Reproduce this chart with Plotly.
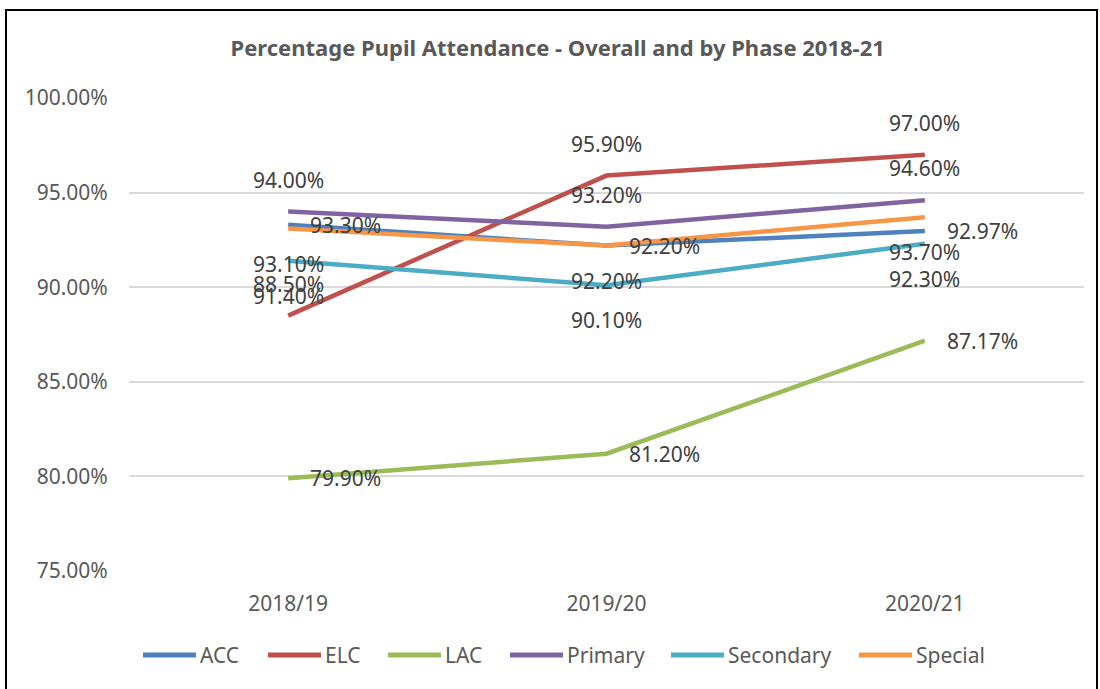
import plotly.graph_objects as go

# School years on the category axis
years = ["2018/19", "2019/20", "2020/21"]

# Attendance rates (percent) by phase
acc = [93.30, 92.20, 92.97]
elc = [88.50, 95.90, 97.00]
lac = [79.90, 81.20, 87.17]
primary = [94.00, 93.20, 94.60]
secondary = [91.40, 90.10, 92.30]
special = [93.10, 92.20, 93.70]

y_ticks = [75, 80, 85, 90, 95, 100]

series = [
    ("ACC", acc, "#4F81BD", "right"),
    ("ELC", elc, "#C0504D", "above"),
    ("LAC", lac, "#9BBB59", "right"),
    ("Primary", primary, "#8064A2", "above"),
    ("Secondary", secondary, "#4BACC6", "below"),
    ("Special", special, "#F79646", "below"),
]

FONT = "Noto Sans"
TEXT = "#404040"
AXIS_TEXT = "#595959"

# plot-area geometry in pixels (used to place the legend row)
W, H = 1100, 689
ML, MR, MT, MB = 129, 16, 98, 118
PW = W - ML - MR
PH = H - MT - MB


def px_to_paper_x(px):
    return (px - ML) / PW


def px_to_paper_y(py):
    return (H - MB - py) / PH


fig = go.Figure()
annotations = []
shapes = []
for name, vals, color, pos in series:
    fig.add_trace(go.Scatter(
        x=years, y=vals, name=name, mode="lines",
        line=dict(color=color, width=4.5),
        hoverinfo="skip", showlegend=False,
    ))
    for x, v in zip(years, vals):
        a = dict(x=x, y=v, xref="x", yref="y", text=f"{v:.2f}%",
                 showarrow=False, font=dict(family=FONT, size=21, color=TEXT))
        if pos == "right":
            a.update(xanchor="left", yanchor="middle", xshift=20)
        elif pos == "above":
            a.update(xanchor="center", yanchor="middle", yshift=32)
        else:
            a.update(xanchor="center", yanchor="middle", yshift=-35)
        annotations.append(a)

# Legend row: long line swatch followed by its label
legend_starts = [141, 266, 386, 508, 669, 857]
swatch_len = 57
legend_y = 655
for (name, _, color, _), x0 in zip(series, legend_starts):
    shapes.append(dict(
        type="line", xref="paper", yref="paper",
        x0=px_to_paper_x(x0 + 2), x1=px_to_paper_x(x0 + swatch_len - 2),
        y0=px_to_paper_y(legend_y), y1=px_to_paper_y(legend_y),
        line=dict(color=color, width=5),
    ))
    annotations.append(dict(
        xref="paper", yref="paper",
        x=px_to_paper_x(x0 + swatch_len), y=px_to_paper_y(legend_y),
        xanchor="left", yanchor="middle", text=name, showarrow=False,
        font=dict(family=FONT, size=21, color=AXIS_TEXT),
    ))

# outer chart border
shapes.append(dict(type="rect", xref="paper", yref="paper",
                   x0=px_to_paper_x(6), x1=px_to_paper_x(1097),
                   y0=px_to_paper_y(720), y1=px_to_paper_y(10),
                   line=dict(color="black", width=2), layer="below"))

fig.update_layout(
    width=W, height=H,
    margin=dict(l=ML, r=MR, t=MT, b=MB),
    paper_bgcolor="white", plot_bgcolor="white",
    font=dict(family=FONT, color=AXIS_TEXT),
    title=dict(
        text="<b>Percentage Pupil Attendance - Overall and by Phase 2018-21</b>",
        x=0.507, xanchor="center", y=0.93, yanchor="middle",
        font=dict(family=FONT, size=22, color=AXIS_TEXT),
    ),
    xaxis=dict(
        type="category", range=[-0.5, 2.5],
        showgrid=False, showline=False, zeroline=False,
        ticks="outside", ticklen=14, tickcolor="rgba(0,0,0,0)",
        tickfont=dict(family=FONT, size=21, color=AXIS_TEXT),
    ),
    yaxis=dict(
        range=[75, 100], tickvals=y_ticks,
        ticktext=[f"{t:.2f}%" for t in y_ticks],
        showgrid=True, gridcolor="#D9D9D9", gridwidth=1.5,
        zeroline=False, showline=False,
        ticks="outside", ticklen=16, tickcolor="rgba(0,0,0,0)",
        tickfont=dict(family=FONT, size=21, color=AXIS_TEXT),
    ),
    annotations=annotations,
    shapes=shapes,
    showlegend=False,
)

fig.write_html("out.html")
